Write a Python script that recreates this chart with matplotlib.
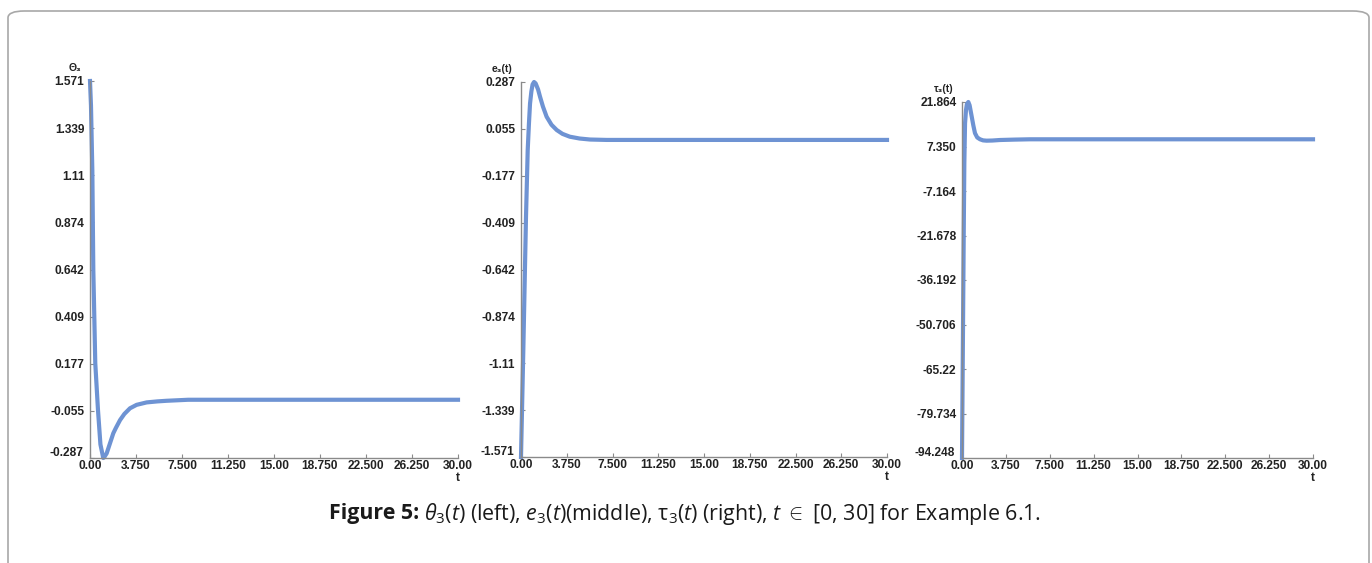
import matplotlib
matplotlib.use("Agg")
import matplotlib.pyplot as plt
import numpy as np
from matplotlib.patches import FancyBboxPatch
from matplotlib.transforms import ScaledTranslation

plt.rcParams['font.family'] = ['Liberation Sans', 'DejaVu Sans']
plt.rcParams['mathtext.fontset'] = 'custom'
plt.rcParams['mathtext.rm'] = 'Open Sans'
plt.rcParams['mathtext.it'] = 'Open Sans:italic'
plt.rcParams['mathtext.bf'] = 'Open Sans:bold'

# values
t_theta = [0, 0.08, 0.19, 0.27, 0.43, 0.65, 0.85, 1.08, 1.15, 1.36, 1.6, 1.9,
           2.1, 2.45, 2.8, 3.26, 3.8, 4.62, 5.5, 6.25, 8.0, 30.0]
theta3 = [1.571, 1.45, 1.13, 0.64, 0.18, -0.05, -0.22, -0.287, -0.284, -0.264,
          -0.22, -0.165, -0.14, -0.10, -0.07, -0.042, -0.025, -0.013, -0.008,
          -0.005, 0.0, 0.0]

t_e = [0, 0.19, 0.41, 0.55, 0.65, 0.74, 0.85, 0.95, 1.07, 1.2, 1.4, 1.56, 1.8,
       2.1, 2.5, 2.93, 3.4, 4.0, 4.8, 5.66, 7.0, 30.0]
e3 = [-1.571, -1.04, -0.38, -0.05, 0.08, 0.18, 0.24, 0.275, 0.287, 0.28, 0.25,
      0.214, 0.165, 0.115, 0.075, 0.049, 0.03, 0.016, 0.007, 0.002, 0.0, 0.0]

t_tau = [0, 0.05, 0.1, 0.15, 0.2, 0.26, 0.34, 0.42, 0.54, 0.65, 0.83, 0.97,
         1.11, 1.3, 1.54, 1.8, 2.1, 2.6, 3.25, 4.5, 5.8, 30.0]
tau3 = [-94.248, -70, -45, -20, 2, 14.9, 19.2, 21.2, 21.864, 20.8, 17.1, 14.2,
        11.7, 10.3, 9.7, 9.35, 9.25, 9.3, 9.47, 9.6, 9.7, 9.7]

x_ticklabels = ['0.00', '3.750', '7.500', '11.250', '15.00', '18.750', '22.500', '26.250', '30.00']
theta_ticks = ['-0.287', '-0.055', '0.177', '0.409', '0.642', '0.874', '1.11', '1.339', '1.571']
e_ticks = ['-1.571', '-1.339', '-1.11', '-0.874', '-0.642', '-0.409', '-0.177', '0.055', '0.287']
tau_ticks = ['-94.248', '-79.734', '-65.22', '-50.706', '-36.192', '-21.678', '-7.164', '7.350', '21.864']

line_color = '#6e93d3'
W, H = 1372, 563

fig = plt.figure(figsize=(W / 100, H / 100), dpi=100)

frame = FancyBboxPatch((8 / W, -0.1), (1369 - 8) / W, 1 - 11 / H + 0.1,
                       boxstyle="round,pad=0,rounding_size=0.012",
                       transform=fig.transFigure, facecolor='none',
                       edgecolor='#a8a8a8', linewidth=1.2)
fig.patches.append(frame)


def make_panel(box, t, y, ticks, ylabel):
    l, r, top, bot = box
    ax = fig.add_axes([l / W, 1 - bot / H, (r - l) / W, (bot - top) / H])
    ax.plot(t, y, color=line_color, lw=3, clip_on=False)
    ymin, ymax = float(ticks[0]), float(ticks[-1])
    ax.set_xlim(0, 30)
    ax.set_ylim(ymin, ymax)
    ax.set_xticks(np.linspace(0, 30, len(x_ticklabels)))
    ax.set_xticklabels(x_ticklabels)
    ax.set_yticks(np.linspace(ymin, ymax, len(ticks)))
    ax.set_yticklabels(ticks)
    for s in ['top', 'right']:
        ax.spines[s].set_visible(False)
    for s in ['left', 'bottom']:
        ax.spines[s].set_color('#8a8a8a')
        ax.spines[s].set_linewidth(1)
    ax.tick_params(axis='x', direction='in', length=3, pad=1.5, color='#8a8a8a',
                   labelsize=8.6)
    ax.tick_params(axis='y', direction='in', length=3, pad=4, color='#8a8a8a',
                   labelsize=8.6)
    for lab in ax.get_xticklabels() + ax.get_yticklabels():
        lab.set_fontweight('bold')
        lab.set_color('#222222')
    # lowest y label sits a little above the axis line, as in the original
    low = ax.get_yticklabels()[0]
    low.set_transform(low.get_transform() +
                      ScaledTranslation(-1 / 72, 5 / 72, fig.dpi_scale_trans))
    ax.annotate(ylabel, xy=(0, 1), xycoords='axes fraction', xytext=(-6, 6),
                textcoords='offset points', ha='right', va='bottom',
                fontsize=7.5, fontweight='bold', color='#222222')
    ax.annotate('t', xy=(1, 0), xycoords='axes fraction', xytext=(0, -10),
                textcoords='offset points', ha='center', va='top',
                fontsize=8.6, fontweight='bold', color='#222222')
    ax.patch.set_visible(False)
    return ax


make_panel((90, 458, 81, 458), t_theta, theta3, theta_ticks, 'Θ₃')
make_panel((521, 887, 82, 457), t_e, e3, e_ticks, 'e₃(t)')
make_panel((962, 1313, 102, 458), t_tau, tau3, tau_ticks, 'τ₃(t)')

# caption: bold lead-in and the rest side by side, centred together
cap_size = 15.4
cap_y = 1 - 514 / H
bold_part = fig.text(0, cap_y, "Figure 5:", ha='left', va='center',
                     fontsize=cap_size, family='Open Sans', fontweight='bold',
                     color='#1a1a1a')
rest = (r"$\mathit{\theta}_3$($\mathit{t}$) (left), "
        r"$\mathit{e}_3$($\mathit{t}$)(middle), τ$_3$($\mathit{t}$) (right), "
        r"$\mathit{t}$ $\in$ [0, 30] for Example 6.1.")
rest_part = fig.text(0, cap_y, rest, ha='left', va='center', fontsize=cap_size,
                     family='Open Sans', color='#1a1a1a')
renderer = fig.canvas.get_renderer()
w1 = bold_part.get_window_extent(renderer).width
w2 = rest_part.get_window_extent(renderer).width
gap = 5
x0 = 685 - (w1 + gap + w2) / 2
bold_part.set_x(x0 / W)
rest_part.set_x((x0 + w1 + gap) / W)

fig.savefig('out.png', dpi=100)
